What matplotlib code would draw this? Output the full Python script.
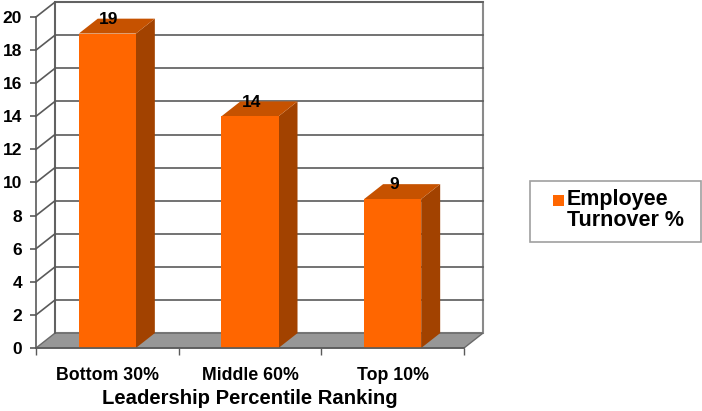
import matplotlib
matplotlib.use("Agg")
import matplotlib.pyplot as plt
from matplotlib.patches import Polygon, Rectangle

plt.rcParams['font.family'] = ['Liberation Sans', 'DejaVu Sans']
plt.rcParams['font.weight'] = 'bold'

categories = ['Bottom 30%', 'Middle 60%', 'Top 10%']
turnover = [19, 14, 9]
series_name = 'Employee\nTurnover %'
y_ticks = list(range(0, 21, 2))
x_title = 'Leadership Percentile Ranking'

FRONT = '#FF6600'
TOP = '#C65200'
SIDE = '#A24200'
FLOOR = '#979797'
GRID = '#5a5a5a'
WALL = '#8a8a8a'

# depth of the fake 3d box, in data units
DX = 0.133
DY = 0.9
BAR_W = 0.40

fig = plt.figure(figsize=(7.02, 4.11), dpi=100)
ax = fig.add_axes([36/702, 63/411, 428/702, 331/411])
x0, x1 = -0.5, len(categories) - 0.5
ax.set_xlim(x0, x1)
ax.set_ylim(0, 20)
for s in ['top', 'right']:
    ax.spines[s].set_visible(False)
for s in ['left', 'bottom']:
    ax.spines[s].set_color(GRID)
    ax.spines[s].set_linewidth(1.2)
    ax.spines[s].set_zorder(6)

# back wall
ax.add_patch(Rectangle((x0 + DX, DY), x1 - x0, 20, facecolor='white',
                       edgecolor=WALL, lw=1.5, clip_on=False, zorder=0))
# floor
ax.add_patch(Polygon([(x0, 0), (x1, 0), (x1 + DX, DY), (x0 + DX, DY)],
                     closed=True, facecolor=FLOOR, edgecolor='#6a6a6a',
                     lw=1.0, clip_on=False, zorder=1))
# gridlines on back wall and the left wall
for t in y_ticks[1:]:
    ax.plot([x0 + DX, x1 + DX], [t + DY, t + DY], color=GRID, lw=1.2,
            clip_on=False, zorder=1)
    ax.plot([x0, x0 + DX], [t, t + DY], color=GRID, lw=1.2,
            clip_on=False, zorder=1)
ax.plot([x0 + DX, x0 + DX], [DY, 20 + DY], color=GRID, lw=1.2,
        clip_on=False, zorder=1)

# bars: side and top faces first, then the front face
xs = list(range(len(categories)))
for x, v in zip(xs, turnover):
    r = x + BAR_W / 2
    l = x - BAR_W / 2
    ax.add_patch(Polygon([(r, 0), (r + DX, DY), (r + DX, v + DY), (r, v)],
                         closed=True, facecolor=SIDE, lw=0, clip_on=False, zorder=3))
    ax.add_patch(Polygon([(l, v), (r, v), (r + DX, v + DY), (l + DX, v + DY)],
                         closed=True, facecolor=TOP, lw=0, clip_on=False, zorder=3))
ax.bar(xs, turnover, width=BAR_W, color=FRONT, zorder=4)

for x, v in zip(xs, turnover):
    ax.text(x + 0.01, v + 0.85, str(v), ha='center', va='center',
            fontsize=12.5, fontweight='bold', zorder=5)

ax.set_yticks(y_ticks)
ax.tick_params(axis='y', length=4, width=1.2, color=GRID, pad=6, labelsize=12.5)
ax.set_xticks(xs)
ax.set_xticklabels(categories)
ax.set_xticks([x0 + i for i in range(len(categories) + 1)], minor=True)
ax.tick_params(axis='x', which='major', length=0, pad=14, labelsize=12.75)
ax.tick_params(axis='x', which='minor', length=5, width=1.0, color=GRID)
ax.set_xlabel(x_title, fontsize=14.6, fontweight='bold', labelpad=3)
ax.patch.set_visible(False)

# legend box
fig.patches.append(Rectangle((530/702, 1 - 242/411), 171/702, 61/411,
                             transform=fig.transFigure, facecolor='white',
                             edgecolor='#a0a0a0', lw=1.2))
fig.patches.append(Rectangle((553/702, 1 - 206/411), 11/702, 11/411,
                             transform=fig.transFigure, facecolor=FRONT, lw=0))
fig.text(567/702, 1 - 189/411, series_name, ha='left', va='top',
         fontsize=15.5, fontweight='bold', linespacing=1.02)

fig.savefig('out.png', dpi=100)
